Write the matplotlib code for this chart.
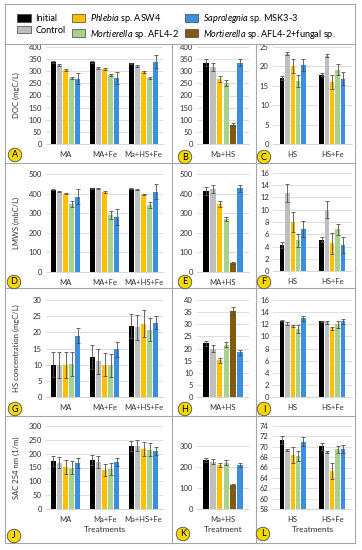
import numpy as np
import matplotlib
matplotlib.use("Agg")
import matplotlib.pyplot as plt
from matplotlib.patches import Patch
from matplotlib.lines import Line2D

plt.rcParams['font.family'] = ['Lato', 'DejaVu Sans']
plt.rcParams['mathtext.fontset'] = 'custom'
plt.rcParams['mathtext.rm'] = 'Lato'
plt.rcParams['mathtext.it'] = 'Lato:italic'

# séries (ordem das barras)
five = ['Initial', 'Control', 'Phlebia', 'Mortierella', 'Saprolegnia']
six = ['Initial', 'Control', 'Phlebia', 'Mortierella', 'Mixed', 'Saprolegnia']

cores = {
    'Initial': '#000000',
    'Control': '#bfbfbf',
    'Phlebia': '#ffc000',
    'Mortierella': '#a9d18e',
    'Mixed': '#7f5a10',
    'Saprolegnia': '#3b8fe0',
}

legenda = [
    ('Initial', 'Initial'),
    ('Control', 'Control'),
    ('Phlebia', r'$\it{Phlebia}$ sp. ASW4'),
    ('Mortierella', r'$\it{Mortierella}$ sp. AFL4-2'),
    ('Saprolegnia', r'$\it{Saprolegnia}$ sp. MSK3-3'),
    ('Mixed', r'$\it{Mortierella}$ sp. AFL4-2+fungal sp.'),
]

grupos_a = ['MA', 'MA+Fe', 'Ma+HS+Fe']
grupos_d = ['MA', 'MA+Fe', 'MA+HS+Fe']
grupos_j = ['MA', 'Ma+Fe', 'Ma+HS+Fe']
grupos_hs = ['HS', 'HS+Fe']

# A - DOC
doc_a = [[338, 327, 305, 272, 270], [338, 315, 310, 283, 272], [333, 320, 297, 273, 340]]
doc_a_err = [[4, 4, 4, 3, 24], [3, 4, 4, 4, 24], [3, 4, 5, 3, 25]]
# B - DOC Ma+HS
doc_b = [[335, 318, 268, 253, 80, 335]]
doc_b_err = [[15, 15, 12, 12, 5, 15]]
# C - DOC HS
doc_c = [[17.0, 23.3, 20.0, 16.3, 20.3], [17.8, 22.8, 16.0, 19.2, 16.8]]
doc_c_err = [[0.4, 0.3, 1.8, 1.5, 1.5], [0.4, 0.3, 1.8, 1.3, 1.7]]
# D - LMWS
lmws_d = [[420, 410, 400, 345, 385], [428, 425, 408, 290, 280], [425, 420, 395, 340, 410]]
lmws_d_err = [[2, 3, 3, 15, 40], [2, 3, 3, 20, 40], [2, 3, 3, 15, 40]]
# E
lmws_e = [[412, 422, 348, 270, 48, 428]]
lmws_e_err = [[20, 20, 15, 12, 5, 18]]
# F
lmws_f = [[4.2, 12.7, 8.0, 5.0, 6.9], [5.1, 10.0, 4.5, 6.8, 4.2]]
lmws_f_err = [[0.5, 1.5, 1.7, 1.0, 1.3], [0.4, 1.4, 1.7, 0.9, 1.3]]
# G - HS
hs_g = [[10.0, 10.0, 10.0, 10.3, 19.0], [12.4, 11.0, 10.0, 9.8, 14.8], [22.0, 21.5, 22.7, 20.8, 23.0]]
hs_g_err = [[3.8, 4.0, 4.0, 3.7, 2.3], [3.7, 3.8, 3.5, 3.6, 2.3], [3.7, 3.8, 4.1, 3.6, 2.0]]
# H
hs_h = [[22.2, 20.0, 15.2, 21.6, 35.5, 18.5]]
hs_h_err = [[1.0, 1.3, 1.0, 1.0, 1.5, 1.0]]
# I
hs_i = [[12.6, 12.1, 11.7, 11.2, 13.0], [12.5, 12.3, 11.3, 12.0, 12.5]]
hs_i_err = [[0.1, 0.2, 0.2, 0.6, 0.4], [0.1, 0.3, 0.2, 0.6, 0.4]]
# J - SAC 254
sac_j = [[175, 168, 152, 150, 165], [177, 170, 142, 145, 170], [228, 228, 218, 215, 210]]
sac_j_err = [[18, 20, 25, 25, 18], [18, 20, 22, 22, 15], [18, 20, 25, 22, 15]]
# K
sac_k = [[232, 225, 210, 220, 115, 210]]
sac_k_err = [[10, 12, 10, 12, 5, 8]]
# L
sac_l = [[71.3, 69.3, 68.4, 68.2, 71.0], [70.1, 69.0, 65.3, 69.5, 69.5]]
sac_l_err = [[0.7, 0.2, 1.6, 1.0, 0.8], [0.7, 0.2, 1.5, 0.7, 0.8]]

W, H = 362, 550
fig = plt.figure(figsize=(W / 100, H / 100), dpi=100)


def caixa(x0, x1, ytop, ybot):
    # converte pixels para coordenadas da figura
    return [x0 / W, 1 - ybot / H, (x1 - x0) / W, (ybot - ytop) / H]


def painel(box, grupos, vals, errs, chaves, ymax, passo, ymin=0, span=0.78, topo=None):
    ax = fig.add_axes(caixa(*box))
    vals = np.array(vals)
    errs = np.array(errs)
    n = len(chaves)
    x = np.arange(len(grupos))
    step = span / n
    for i, k in enumerate(chaves):
        ax.bar(x + (i - (n - 1) / 2) * step, vals[:, i], step * 0.82,
               yerr=errs[:, i], color=cores[k], zorder=2,
               error_kw=dict(ecolor='#505050', elinewidth=0.6, capsize=1.3, capthick=0.6))
    ax.set_xlim(-0.5, len(grupos) - 0.5)
    ax.set_ylim(ymin, topo if topo else ymax)
    ax.set_yticks(np.arange(ymin, ymax + passo / 2, passo))
    ax.set_xticks(x)
    ax.set_xticklabels(grupos)
    ax.tick_params(length=0, labelsize=5.5, colors='#303030')
    ax.tick_params(axis='x', pad=5)
    ax.tick_params(axis='y', pad=3)
    ax.grid(axis='y', color='#d9d9d9', lw=0.6)
    ax.set_axisbelow(True)
    for s in ['top', 'right', 'left']:
        ax.spines[s].set_visible(False)
    ax.spines['bottom'].set_color('#d0d0d0')
    ax.spines['bottom'].set_linewidth(0.6)
    return ax


ax_a = painel((46, 163, 47, 144), grupos_a, doc_a, doc_a_err, five, 400, 50)
painel((197, 249, 47, 144), ['Ma+HS'], doc_b, doc_b_err, six, 400, 50)
painel((273, 352, 47, 144), grupos_hs, doc_c, doc_c_err, five, 25, 5, span=0.68)

ax_d = painel((46, 163, 174, 272), grupos_d, lmws_d, lmws_d_err, five, 500, 100)
painel((197, 249, 174, 272), ['MA+HS'], lmws_e, lmws_e_err, six, 500, 100)
painel((273, 352, 173, 271), grupos_hs, lmws_f, lmws_f_err, five, 16, 2, span=0.68)

ax_g = painel((46, 163, 300, 397), grupos_d, hs_g, hs_g_err, five, 30, 5)
painel((197, 249, 300, 397), ['MA+HS'], hs_h, hs_h_err, six, 40, 5)
painel((273, 352, 300, 397), grupos_hs, hs_i, hs_i_err, five, 16, 2, span=0.68)

ax_j = painel((46, 163, 426, 509), grupos_j, sac_j, sac_j_err, five, 300, 50)
ax_k = painel((197, 249, 426, 509), ['Ma+HS'], sac_k, sac_k_err, six, 300, 100, topo=395)
ax_l = painel((273, 352, 426, 509), grupos_hs, sac_l, sac_l_err, five, 74, 2, ymin=58, span=0.68)

for ax, txt in [(ax_a, 'DOC (mgC/L)'), (ax_d, 'LMWS (mbC/L)'),
                (ax_g, 'HS concentration (mgC/L)'), (ax_j, 'SAC 254 nm (1/m)')]:
    ax.set_ylabel(txt, fontsize=5.5, color='#303030')
    ax.yaxis.set_label_coords(-0.22, 0.5)

ax_j.set_xlabel('Treatments', fontsize=6, color='#303030', labelpad=2)
ax_k.set_xlabel('Treatment', fontsize=6, color='#303030', labelpad=2)
ax_l.set_xlabel('Treatments', fontsize=6, color='#303030', labelpad=2)

# letras dos painéis
letras = [('A', 15, 155), ('B', 185, 157), ('C', 264, 157),
          ('D', 14, 282), ('E', 185, 282), ('F', 264, 282),
          ('G', 15, 409), ('H', 185, 409), ('I', 264, 409),
          ('J', 14, 536), ('K', 183, 534), ('L', 263, 534)]
for l, x, y in letras:
    fig.text(x / W, 1 - y / H, l, ha='center', va='center', fontsize=6.5,
             bbox=dict(boxstyle='circle,pad=0.25', fc='#f5d800', ec='#505050', lw=0.6))

# molduras
cl = '#a6a6a6'
def linha(xs, ys):
    fig.add_artist(Line2D([x / W for x in xs], [1 - y / H for y in ys], color=cl, lw=0.8))

linha([5, 355, 355, 5, 5], [4, 4, 543, 543, 4])
for y in [44, 163, 288, 416]:
    linha([5, 355], [y, y])
for x in [172, 256]:
    linha([x, x], [44, 543])

handles = [Patch(facecolor=cores[k], edgecolor='#404040', lw=0.5) for k, _ in legenda]
fig.legend(handles, [t for _, t in legenda], loc='upper left',
           bbox_to_anchor=(9 / W, 1 - 4 / H), ncol=3, frameon=False,
           fontsize=6.6, handlelength=1.45, handleheight=0.95,
           handletextpad=0.5, columnspacing=0.7, labelspacing=0.25)

fig.savefig('out.png', dpi=100)
